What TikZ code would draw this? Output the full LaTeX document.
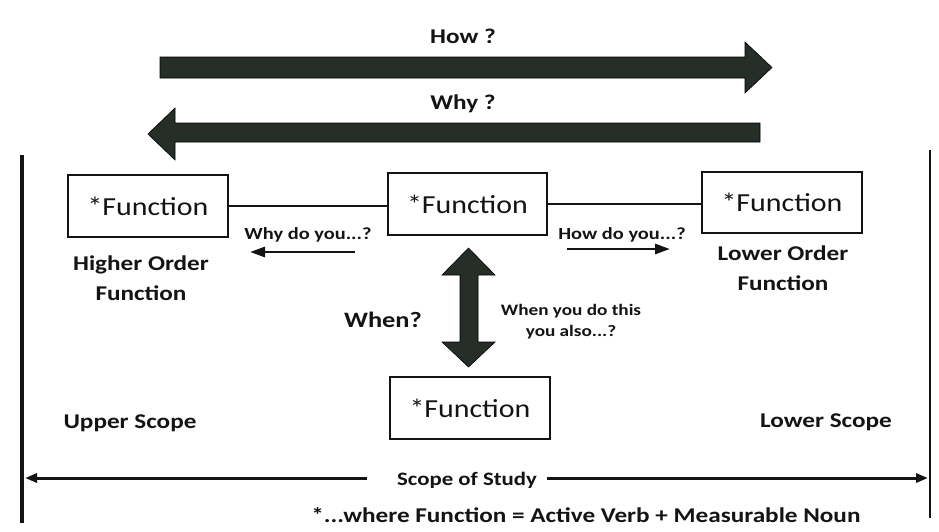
\documentclass[tikz,border=0pt]{standalone}
\usepackage{fontspec}
\setmainfont{Carlito}
\newfontfamily\boxfont{Carlito}[FakeStretch=1.15]
\newfontfamily\labfont{Carlito}[FakeStretch=1.2]
\usetikzlibrary{arrows.meta}
\definecolor{bigarrow}{RGB}{38,46,40}
\definecolor{ink}{RGB}{20,20,20}
\begin{document}
\begin{tikzpicture}[x=1pt,y=-1pt,
  fbox/.style={draw=ink, line width=1.5pt, minimum width=160pt, minimum height=62pt,
    inner sep=0pt, font=\boxfont\fontsize{26}{28}\selectfont, text=ink},
  lab/.style={font=\labfont\bfseries\fontsize{21}{30}\selectfont, align=center,
    inner sep=0pt, text=ink},
  smalllab/.style={lab, font=\labfont\bfseries\fontsize{17}{21}\selectfont},
  bigshape/.style={fill=bigarrow, draw=black, line width=0.6pt, line join=miter},
  link/.style={draw=ink, line width=1.2pt},
  smallarrow/.style={draw=ink, line width=2.8pt, -{Triangle[length=15pt,width=10pt]}},
  scopearrow/.style={draw=ink, line width=3pt, -{Triangle[length=12pt,width=9pt]}},
  bound/.style={draw=ink, line width=3pt}]
\useasboundingbox[fill=white] (0,0) rectangle (939,531);

% broad How / Why arrows
\node[lab] (how) at (463,36) {How ?};
\fill[bigshape] (160,57) -- (745,57) -- (745,42) -- (772,67.5) -- (745,93)
  -- (745,78) -- (160,78) -- cycle;
\node[lab] (why) at (463,104) {Why ?};
\fill[bigshape] (760,123) -- (175,123) -- (175,108) -- (148,134) -- (175,160)
  -- (175,142) -- (760,142) -- cycle;

% scope boundaries
\coordinate (ltop) at (22,155);
\coordinate (lbot) at (22,523);
\coordinate (rtop) at (930,150);
\coordinate (rbot) at (930,518);
\draw[bound, line width=3.5pt] (ltop) -- (lbot);
\draw[bound, line width=2.5pt] (rtop) -- (rbot);

% function boxes
\node[fbox] (hi) at (148,206) {*Function};
\node[fbox, minimum width=159pt] (mid) at (467.5,204) {*Function};
\node[fbox, minimum height=61pt] (lo) at (782,202.5) {*Function};
\node[fbox] (when) at (470,408) {*Function};

\draw[link] (hi.east) -- (hi.east -| mid.west);
\draw[link] (mid.east) -- (mid.east -| lo.west);

% order labels
\node[lab] (hol) at (141,278) {Higher Order\\Function};
\node[lab] (lol) at (783,268) {Lower Order\\Function};

% why / how questions
\node[smalllab] (whyq) at (308,235) {Why do you...?};
\coordinate (whys) at (355,252);
\coordinate (whye) at (250,252);
\draw[smallarrow] (whys) -- (whye);
\node[smalllab] (howq) at (622,235) {How do you...?};
\coordinate (hows) at (567,249);
\coordinate (howe) at (670,249);
\draw[smallarrow] (hows) -- (howe);

% when arrow
\fill[bigshape] (460,275) -- (442,275) -- (468.5,248) -- (495,275) -- (478,275)
  -- (478,342) -- (495,342) -- (468.5,367) -- (442,342) -- (460,342) -- cycle;
\node[lab, font=\labfont\bfseries\fontsize{22}{26}\selectfont] (whenq) at (383,320) {When?};
\node[lab, font=\labfont\bfseries\fontsize{16}{21}\selectfont] (alsoq) at (571,322) {When you do this\\you also...?};

% scope labels
\node[lab] (upper) at (130,423) {Upper Scope};
\node[lab] (lower) at (826,422) {Lower Scope};
\node[lab, font=\labfont\bfseries\fontsize{19}{22}\selectfont] (scope) at (467,480) {Scope of Study};
\coordinate (sl) at (25,478);
\coordinate (sr) at (928,478);
\draw[scopearrow] ([xshift=-30pt]scope.west |- sl) -- (sl);
\draw[scopearrow] ([xshift=10pt]scope.east |- sr) -- (sr);

% footnote
\node[lab] (note) at (586,515) {*...where Function = Active Verb + Measurable Noun};
\end{tikzpicture}
\end{document}
